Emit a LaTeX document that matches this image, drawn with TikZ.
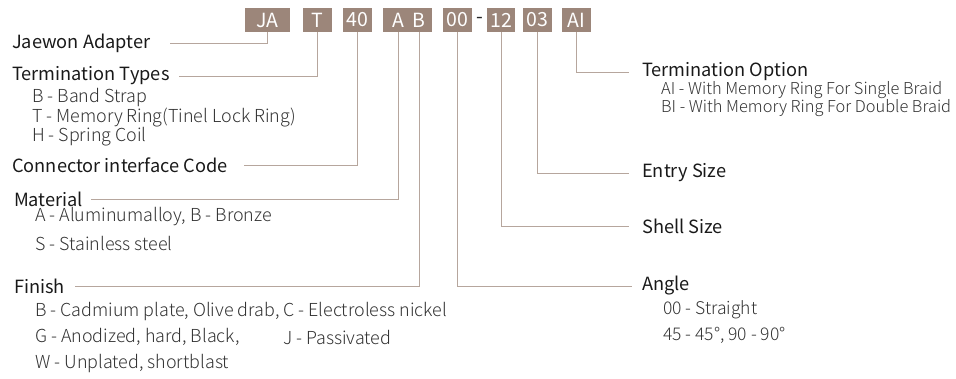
\documentclass[tikz,border=0pt]{standalone}
\usepackage{fontspec}
\setmainfont{Noto Sans CJK KR}
\IfFontExistsTF{Noto Sans CJK KR Light}
  {\newfontfamily\subfont{Noto Sans CJK KR Light}}
  {\newfontfamily\subfont{Noto Sans CJK KR}}
\begin{document}
\begin{tikzpicture}[x=1pt,y=-1pt,
  code/.style={fill=boxc, text=white, minimum height=24pt, inner sep=0pt, font=\fontsize{19.5}{19.5}\selectfont},
  codet/.style={text=white, inner sep=0pt, font=\fontsize{19.5}{19.5}\selectfont},
  conn/.style={draw=linec, line width=0.9pt},
  head/.style={anchor=west, inner sep=0pt, text=black!90, font=\fontsize{18.2}{18}\selectfont},
  sub/.style={anchor=west, inner sep=0pt, text=black!80, font=\subfont\fontsize{17.9}{17}\selectfont},
  subr/.style={sub, font=\subfont\fontsize{16.4}{16}\selectfont},
  subg/.style={sub, font=\subfont\fontsize{17.5}{16}\selectfont}]
\definecolor{boxc}{RGB}{156,134,122}
\definecolor{linec}{RGB}{182,166,157}
\useasboundingbox (0,0) rectangle (956,378);
% code boxes
\node[code, minimum width=45pt] (bJA) at (267.5,20) {JA};
\node[code, minimum width=29pt] (bT) at (317.5,20) {T};
\node[code, minimum width=29pt] (b40) at (357.5,20) {40};
\node[code, minimum width=49pt] (bAB) at (407.5,20) {};
\node[codet] (tA) at (398,20) {A};
\node[codet] (tB) at (419,20) {B};
\node[code, minimum width=29pt] (b00) at (457.5,20) {00};
\node[inner sep=0pt, font=\fontsize{19.5}{19.5}\selectfont, text=black!85] (dash) at (479.5,20) {-};
\node[code, minimum width=28pt] (b12) at (501,20) {12};
\node[code, minimum width=29pt] (b03) at (537.5,20) {03};
\node[code, minimum width=29pt] (bAI) at (576.5,20) {AI};
% left labels
\node[head] (lJA) at (12,43) {Jaewon Adapter};
\node[head] (lT) at (12,76) {Termination Types};
\node[sub] (sT1) at (32,98) {B - Band Strap};
\node[sub] (sT2) at (32,118) {T - Memory Ring(Tinel Lock Ring)};
\node[sub] (sT3) at (32,137) {H - Spring Coil};
\node[head] (l40) at (12,165) {Connector interface Code};
\node[head] (lMat) at (14,199) {Material};
\node[sub] (sM1) at (35,217) {A - Aluminumalloy, B - Bronze};
\node[sub] (sM2) at (35,243) {S - Stainless steel};
\node[head] (lFin) at (14,286) {Finish};
\node[sub] (sF1) at (35,311) {B - Cadmium plate, Olive drab, C - Electroless nickel};
\node[sub] (sF2) at (35,337) {G - Anodized, hard, Black,};
\node[sub] (sF2b) at (283,337) {J - Passivated};
\node[sub] (sF3) at (35,363) {W - Unplated, shortblast};
% right labels
\node[head] (lAI) at (642,72) {Termination Option};
\node[subr] (sA1) at (661,90) {AI - With Memory Ring For Single Braid};
\node[subr] (sA2) at (661,108) {BI - With Memory Ring For Double Braid};
\node[head] (l03) at (642,173) {Entry Size};
\node[head] (l12) at (642,226) {Shell Size};
\node[head] (l00) at (642,286) {Angle};
\node[subg] (sG1) at (663,310) {00 - Straight};
\node[subg] (sG2) at (663,335) {45 - 45°, 90 - 90°};
% connector free ends
\coordinate (eJA) at (170,43);
\coordinate (eT) at (179,76);
\coordinate (e40) at (244,165);
\coordinate (eA) at (91,199);
\coordinate (eB) at (75,286);
\coordinate (eAI) at (629,72);
\coordinate (e03) at (629,173);
\coordinate (e12) at (629,226);
\coordinate (e00) at (632,286);
% connectors
\draw[conn] (bJA.south) |- (eJA);
\draw[conn] (bT.south) |- (eT);
\draw[conn] (b40.south) |- (e40);
\draw[conn] (bAB.south -| tA) |- (eA);
\draw[conn] (bAB.south -| tB) |- (eB);
\draw[conn] (b00.south) |- (e00);
\draw[conn] (b12.south) |- (e12);
\draw[conn] (b03.south) |- (e03);
\draw[conn] (bAI.south) |- (eAI);
\end{tikzpicture}
\end{document}
